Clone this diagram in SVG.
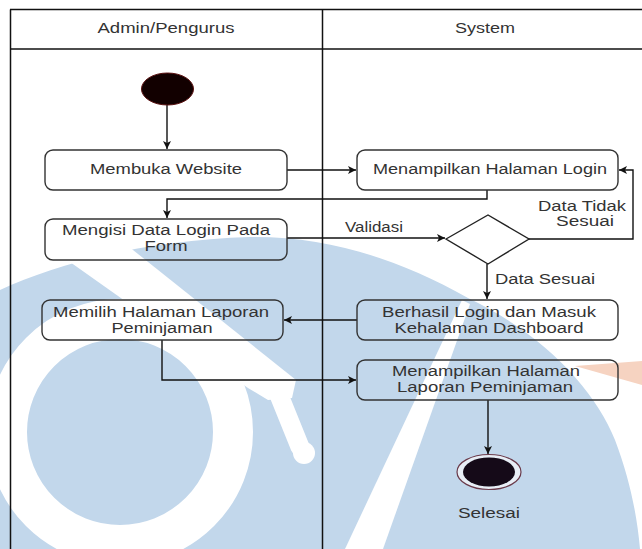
<svg xmlns="http://www.w3.org/2000/svg" width="642" height="549" viewBox="0 0 642 549">
<defs>
<style>
.wm{fill:#c2d7eb;stroke:none}
.wh{fill:#ffffff;stroke:none}
.lane{stroke:#111;stroke-width:1.5;fill:none}
.box{fill:none;stroke:#333;stroke-width:1.4}
.t{font-family:"Liberation Sans",Arial,sans-serif;font-size:14px;fill:#333;text-anchor:middle}
.c{fill:none;stroke:#111;stroke-width:1.4}
</style>
<marker id="ah" markerWidth="10" markerHeight="10" refX="9" refY="5" orient="auto" markerUnits="userSpaceOnUse">
<path d="M1,1 L9,5 L1,9 L3,5 Z" fill="#111"/>
</marker>
</defs>
<rect width="642" height="549" fill="#fff"/>
<g id="watermark">
<path class="wm" d="M0,290 C60,262 150,240 250,237 C330,236 400,260 468,298 C545,335 595,390 615,440 C630,480 637,515 640,549 L0,549 Z"/>
<path class="wh" d="M462,300 L345,549 L383,549 L470,304 Z"/>
<path class="wh" d="M70,262 L128,246 L296,380 L292,398 L268,400 L248,388 Z"/>
<line x1="279" y1="395" x2="300" y2="447" stroke="#fff" stroke-width="19" stroke-linecap="round"/>
<circle cx="304" cy="453" r="11" fill="#fff"/>
<circle cx="120" cy="432" r="113" fill="none" stroke="#fff" stroke-width="40"/>
<path d="M575,366 L642,361 L642,385 Z" fill="#f6d3c1"/>
</g>
<g id="lanes">
<line class="lane" x1="10" y1="9.5" x2="642" y2="9.5"/>
<line class="lane" x1="10" y1="49" x2="642" y2="49"/>
<line class="lane" x1="10.5" y1="9.5" x2="10.5" y2="549"/>
<line class="lane" x1="322.5" y1="9.5" x2="322.5" y2="549"/>
<text class="t" x="166" y="33" textLength="137" lengthAdjust="spacingAndGlyphs">Admin/Pengurus</text>
<text class="t" x="485" y="33" textLength="60" lengthAdjust="spacingAndGlyphs">System</text>
</g>
<g id="connectors">
<path class="c" d="M167,105 L167,149" marker-end="url(#ah)"/>
<path class="c" d="M287,170 L356,170" marker-end="url(#ah)"/>
<path class="c" d="M487,190 L487,199 L167,199 L167,218" marker-end="url(#ah)"/>
<path class="c" d="M287,238 L445,238" marker-end="url(#ah)"/>
<path class="c" d="M529,239 L633,239 L633,170 L619,170" marker-end="url(#ah)"/>
<path class="c" d="M487,264 L487,299" marker-end="url(#ah)"/>
<path class="c" d="M357,320 L284,320" marker-end="url(#ah)"/>
<path class="c" d="M162,340 L162,380 L356,380" marker-end="url(#ah)"/>
<path class="c" d="M488,400 L488,454" marker-end="url(#ah)"/>
<text class="t" x="374" y="232" textLength="58" lengthAdjust="spacingAndGlyphs">Validasi</text>
<text class="t" x="582" y="211" textLength="88" lengthAdjust="spacingAndGlyphs">Data Tidak</text>
<text class="t" x="585" y="226" textLength="58" lengthAdjust="spacingAndGlyphs">Sesuai</text>
<text class="t" x="545" y="284" textLength="100" lengthAdjust="spacingAndGlyphs">Data Sesuai</text>
</g>
<g id="start">
<ellipse cx="167.5" cy="89" rx="26" ry="16" fill="#120000" stroke="#5a1010" stroke-width="1"/>
</g>
<g id="membuka">
<rect class="box" x="45" y="150" width="242" height="40" rx="8"/>
<text class="t" x="166" y="174" textLength="152" lengthAdjust="spacingAndGlyphs">Membuka Website</text>
</g>
<g id="tampil-login">
<rect class="box" x="357" y="150" width="261" height="40" rx="8"/>
<text class="t" x="490" y="174" textLength="234" lengthAdjust="spacingAndGlyphs">Menampilkan Halaman Login</text>
</g>
<g id="mengisi">
<rect class="box" x="45" y="219" width="242" height="41" rx="8"/>
<text class="t" x="166" y="235" textLength="208" lengthAdjust="spacingAndGlyphs">Mengisi Data Login Pada</text>
<text class="t" x="166" y="251" textLength="43" lengthAdjust="spacingAndGlyphs">Form</text>
</g>
<g id="validasi">
<path d="M446,239 L488,215 L529,239 L488,264 Z" fill="none" stroke="#222" stroke-width="1.4"/>
</g>
<g id="berhasil">
<rect class="box" x="357" y="300" width="261" height="40" rx="8"/>
<text class="t" x="489" y="317" textLength="214" lengthAdjust="spacingAndGlyphs">Berhasil Login dan Masuk</text>
<text class="t" x="489" y="333" textLength="189" lengthAdjust="spacingAndGlyphs">Kehalaman Dashboard</text>
</g>
<g id="memilih">
<rect class="box" x="42" y="300" width="241" height="40" rx="8"/>
<text class="t" x="161" y="317" textLength="216" lengthAdjust="spacingAndGlyphs">Memilih Halaman Laporan</text>
<text class="t" x="162" y="333" textLength="101" lengthAdjust="spacingAndGlyphs">Peminjaman</text>
</g>
<g id="tampil-laporan">
<rect class="box" x="357" y="360" width="261" height="40" rx="8"/>
<text class="t" x="486" y="376" textLength="188" lengthAdjust="spacingAndGlyphs">Menampilkan Halaman</text>
<text class="t" x="485" y="392" textLength="176" lengthAdjust="spacingAndGlyphs">Laporan Peminjaman</text>
</g>
<g id="selesai">
<ellipse cx="489" cy="472" rx="32" ry="17.5" fill="#e8eef6" stroke="#6a3a4a" stroke-width="1.2"/>
<ellipse cx="489" cy="472" rx="26" ry="14.5" fill="#150a18"/>
<text class="t" x="489" y="518" textLength="62" lengthAdjust="spacingAndGlyphs">Selesai</text>
</g>
</svg>
